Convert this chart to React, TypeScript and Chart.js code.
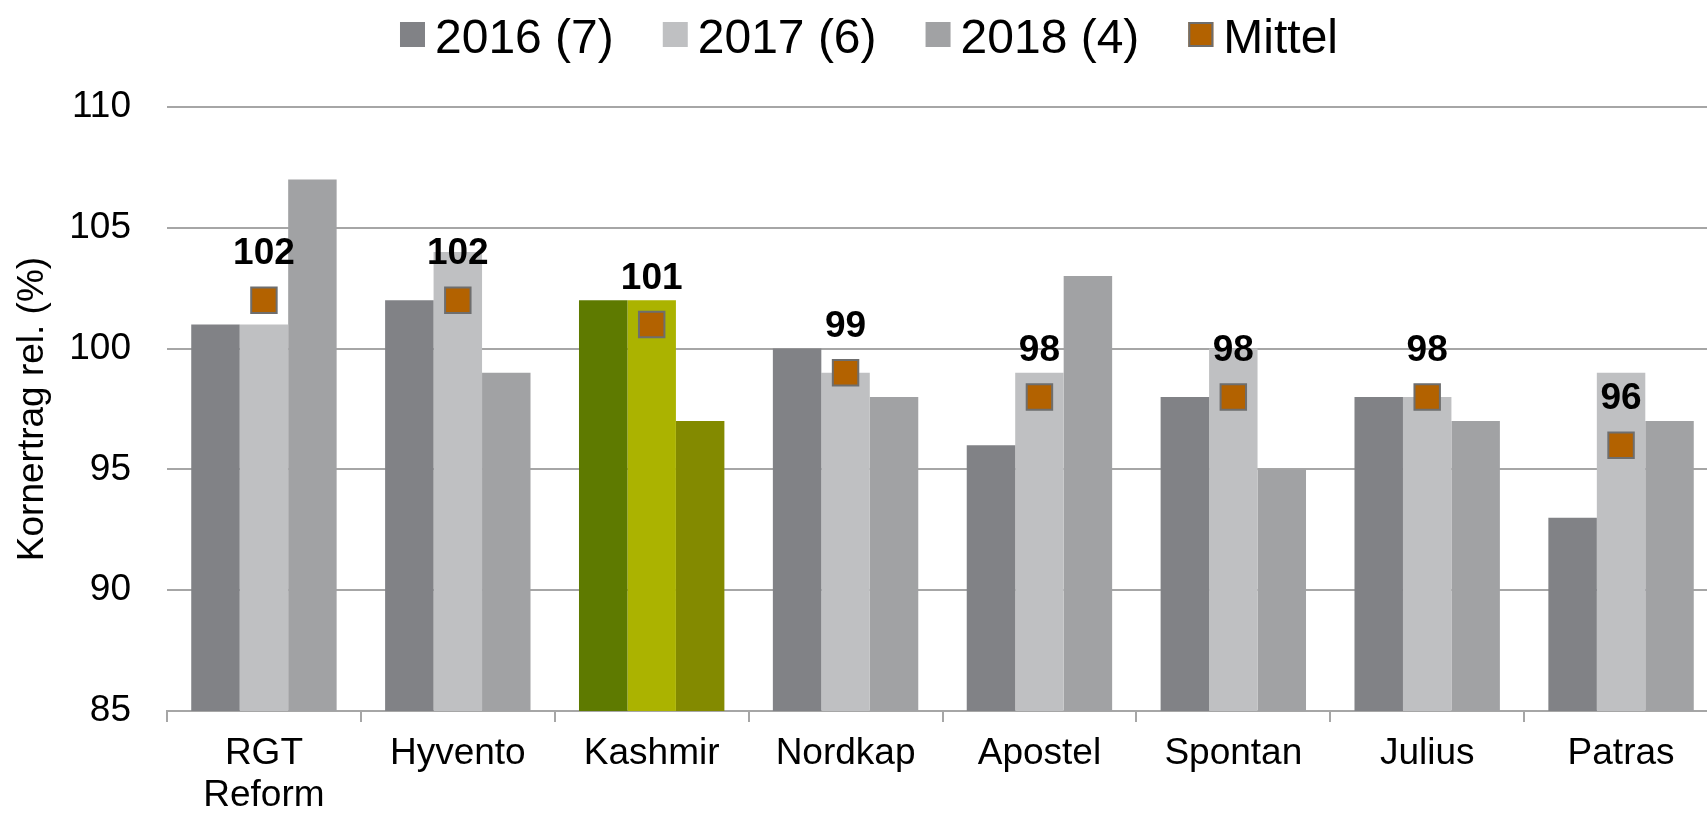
import React, { useEffect, useRef } from 'react';
import { Chart, registerables } from 'chart.js';

Chart.register(...registerables);

// ---- data ----
const categories: (string | string[])[] = [['RGT', 'Reform'], 'Hyvento', 'Kashmir', 'Nordkap', 'Apostel', 'Spontan', 'Julius', 'Patras'];
const values2016 = [101, 102, 102, 100, 96, 98, 98, 93];
const values2017 = [101, 104, 102, 99, 99, 100, 98, 99];
const values2018 = [107, 99, 97, 98, 103, 95, 97, 97];
const mittel = [102, 102, 101, 99, 98, 98, 98, 96];
const seriesLabels = ['2016 (7)', '2017 (6)', '2018 (4)', 'Mittel'];
const yTicks = [85, 90, 95, 100, 105, 110];
const highlightIndex = 2;

// ---- styles ----
const FONT = '"Liberation Sans", Arial, Helvetica, sans-serif';
const grays = ['#818286', '#bfc0c2', '#a1a2a4'];
const greens = ['#5e7a00', '#abb300', '#838a00'];
const markerFill = '#b36200';
const markerBorder = '#6e6e6e';
const gridColor = '#a6a6a6';

const colorsFor = (s: number) => categories.map((_, i) => (i === highlightIndex ? greens[s] : grays[s]));

const legendPlugin = {
  id: 'customLegend',
  afterDraw(chart: any) {
    const ctx = chart.ctx as CanvasRenderingContext2D;
    ctx.save();
    ctx.font = `48px ${FONT}`;
    const box = 25;
    const gapText = 10;
    const gapItem = 49;
    const items = seriesLabels.map((t, i) => ({
      text: t,
      fill: i < 3 ? grays[i] : markerFill,
      stroke: i < 3 ? null : markerBorder,
    }));
    const widths = items.map((it) => box + gapText + ctx.measureText(it.text).width);
    const total = widths.reduce((a, b) => a + b, 0) + gapItem * (items.length - 1);
    let x = chart.width / 2 - total / 2;
    const boxTop = 22;
    const baseline = 53;
    items.forEach((it, i) => {
      ctx.fillStyle = it.fill;
      ctx.fillRect(x, boxTop, box, box);
      if (it.stroke) {
        ctx.strokeStyle = it.stroke;
        ctx.lineWidth = 2;
        ctx.strokeRect(x + 1, boxTop + 1, box - 2, box - 2);
      }
      ctx.fillStyle = '#000';
      ctx.textAlign = 'left';
      ctx.textBaseline = 'alphabetic';
      ctx.fillText(it.text, x + box + gapText, baseline);
      x += widths[i] + gapItem;
    });
    ctx.restore();
  },
};

const labelPlugin = {
  id: 'mittelLabels',
  afterDatasetsDraw(chart: any) {
    const meta = chart.getDatasetMeta(3);
    const ctx = chart.ctx as CanvasRenderingContext2D;
    ctx.save();
    ctx.font = `bold 37px ${FONT}`;
    ctx.fillStyle = '#000';
    ctx.textAlign = 'center';
    ctx.textBaseline = 'middle';
    meta.data.forEach((pt: any, i: number) => {
      ctx.fillText(String(mittel[i]), pt.x, pt.y - 46);
    });
    ctx.restore();
  },
};

export default function App() {
  const ref = useRef<HTMLCanvasElement | null>(null);

  useEffect(() => {
    if (!ref.current) return;
    const chart = new Chart(ref.current, {
      type: 'bar',
      data: {
        labels: categories as any,
        datasets: [
          { label: seriesLabels[0], data: values2016, backgroundColor: colorsFor(0), order: 1, categoryPercentage: 0.75, barPercentage: 1.0 },
          { label: seriesLabels[1], data: values2017, backgroundColor: colorsFor(1), order: 1, categoryPercentage: 0.75, barPercentage: 1.0 },
          { label: seriesLabels[2], data: values2018, backgroundColor: colorsFor(2), order: 1, categoryPercentage: 0.75, barPercentage: 1.0 },
          {
            type: 'line',
            label: seriesLabels[3],
            data: mittel,
            showLine: false,
            pointStyle: 'rect',
            pointRadius: 18,
            pointHoverRadius: 18,
            backgroundColor: markerFill,
            borderColor: markerBorder,
            pointBorderWidth: 2,
            order: 0,
          } as any,
        ],
      },
      options: {
        responsive: false,
        animation: false,
        devicePixelRatio: 1,
        layout: { padding: { top: 107, right: 18, left: 0, bottom: 0 } },
        plugins: {
          legend: { display: false },
          tooltip: { enabled: false },
        },
        scales: {
          x: {
            grid: {
              display: true,
              drawOnChartArea: false,
              drawTicks: true,
              tickLength: 11,
              color: gridColor,
              lineWidth: 2,
              offset: true,
            },
            border: { display: true, color: gridColor, width: 2 },
            ticks: {
              color: '#000',
              font: { family: FONT, size: 37, lineHeight: 1.14 },
              padding: 11,
              maxRotation: 0,
              autoSkip: false,
            },
            afterFit: (s: any) => {
              s.height = 103;
            },
          },
          y: {
            min: 85,
            max: 110,
            afterBuildTicks: (s: any) => {
              s.ticks = yTicks.map((v) => ({ value: v }));
            },
            grid: { color: gridColor, lineWidth: 2, drawTicks: false },
            border: { display: false },
            ticks: {
              color: '#000',
              font: { family: FONT, size: 37 },
              padding: 36,
            },
            title: {
              display: true,
              text: 'Kornertrag rel. (%)',
              color: '#000',
              font: { family: FONT, size: 37 },
              padding: { top: 11, bottom: 0 },
            },
            afterFit: (s: any) => {
              s.width = 167;
            },
          },
        },
      },
      plugins: [legendPlugin, labelPlugin],
    });
    return () => chart.destroy();
  }, []);

  return (
    <div style={{ position: 'fixed', left: 0, top: 0, width: 1707, height: 814, overflow: 'hidden', background: '#fff' }}>
      <canvas ref={ref} width={1738} height={814} style={{ display: 'block', width: 1738, height: 814 }} />
    </div>
  );
}
